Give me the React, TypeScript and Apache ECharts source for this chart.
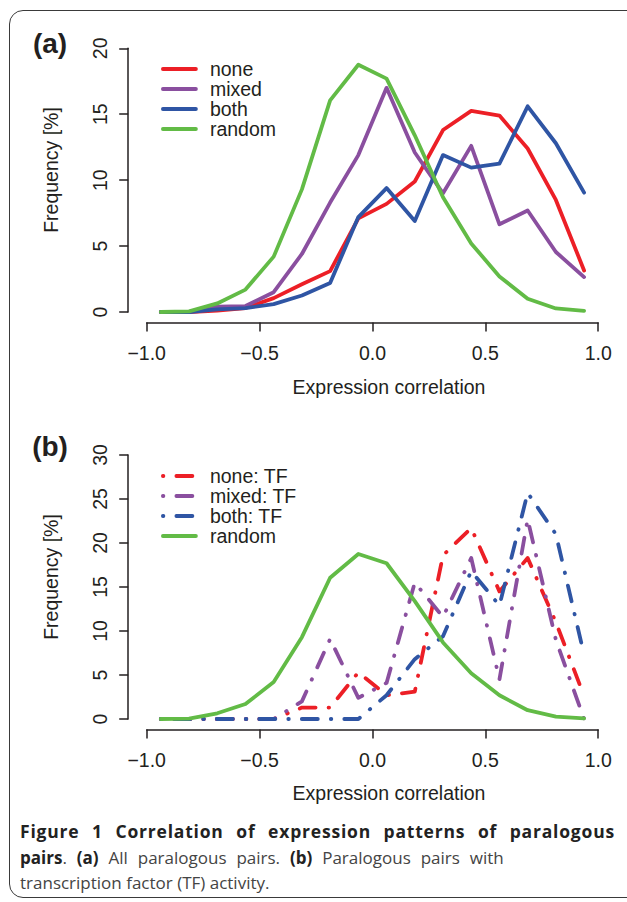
import React, { useEffect, useRef } from 'react';
import * as echarts from 'echarts';

// Bin centres of the expression-correlation histogram (bin width 0.125)
const bins = [-0.9375, -0.8125, -0.6875, -0.5625, -0.4375, -0.3125, -0.1875, -0.0625,
  0.0625, 0.1875, 0.3125, 0.4375, 0.5625, 0.6875, 0.8125, 0.9375];

// Panel (a): all paralogous pairs, frequency [%]
const noneA = [0, 0, 0.1, 0.3, 1.05, 2.1, 3.1, 7.1, 8.2, 9.9, 13.8, 15.25, 14.9, 12.4, 8.5, 3.15];
const mixedA = [0, 0, 0.4, 0.45, 1.5, 4.4, 8.3, 11.9, 17.0, 12.1, 9.0, 12.6, 6.65, 7.7, 4.55, 2.65];
const bothA = [0, 0, 0.2, 0.3, 0.6, 1.25, 2.2, 7.2, 9.4, 6.9, 11.9, 10.95, 11.25, 15.6, 12.8, 9.05];
const randomPairs = [0, 0.05, 0.65, 1.7, 4.2, 9.3, 16.05, 18.75, 17.7, 13.4, 8.7, 5.2, 2.7, 1.0, 0.27, 0.08];

// Panel (b): paralogous pairs with TF activity, frequency [%]
const noneTF = [0, 0, 0, 0, 0, 1.3, 1.3, 5.3, 2.7, 3.1, 18.6, 21.7, 14.5, 18.3, 11.0, 2.6];
const mixedTF = [0, 0, 0, 0, 0, 2.0, 9.1, 2.4, 4.1, 15.5, 11.6, 18.3, 4.5, 22.7, 9.0, 0];
const bothTF = [0, 0, 0, 0, 0, 0, 0, 0, 2.7, 6.8, 9.4, 16.8, 12.9, 25.7, 21.0, 7.3];

// Axis settings / tick labels
const xTicks = [-1, -0.5, 0, 0.5, 1];
const xTickLabels = ['\u22121.0', '\u22120.5', '0.0', '0.5', '1.0'];
const yTicksA = [0, 5, 10, 15, 20];
const yTicksB = [0, 5, 10, 15, 20, 25, 30];

const legendA = ['none', 'mixed', 'both', 'random'];
const legendB = ['none: TF', 'mixed: TF', 'both: TF', 'random'];

const RED = '#ec1f26';
const PURPLE = '#8a4f9f';
const BLUE = '#2f55a4';
const GREEN = '#62bb46';
const INK = '#231f20';
const FONT = '"Liberation Sans", Arial, Helvetica, sans-serif';
const DASH = [0.5, 13, 16, 13];

function pairs(vals: number[]) {
  return bins.map((b, i) => [b, vals[i]]);
}

function lineSeries(name: string, vals: number[], color: string, gi: number, dashed: boolean) {
  return {
    type: 'line',
    name,
    xAxisIndex: gi,
    yAxisIndex: gi,
    data: pairs(vals),
    symbol: 'none',
    color,
    silent: true,
    clip: false,
    lineStyle: { color, width: 3.8, type: dashed ? DASH : 'solid', cap: 'round', join: 'round' },
    emphasis: { disabled: true },
  };
}

function xAxis(gi: number) {
  return {
    type: 'value', gridIndex: gi, min: xTicks[0], max: xTicks[xTicks.length - 1], interval: 0.5,
    offset: 10.5,
    axisLine: { show: true, onZero: false, lineStyle: { color: INK, width: 1.5 } },
    axisTick: { show: true, length: 9, lineStyle: { color: INK, width: 1.5 } },
    axisLabel: {
      margin: 20.5, fontSize: 19.5, color: INK, fontFamily: FONT,
      formatter: (v: number) => {
        const i = xTicks.findIndex((t) => Math.abs(t - v) < 1e-9);
        return i >= 0 ? xTickLabels[i] : '';
      },
    },
    splitLine: { show: false },
  };
}

function yAxis(gi: number, ticks: number[]) {
  return {
    type: 'value', gridIndex: gi, min: ticks[0], max: ticks[ticks.length - 1], interval: 5,
    offset: 18.5,
    axisLine: { show: true, onZero: false, lineStyle: { color: INK, width: 1.5 } },
    axisTick: { show: true, length: 9, lineStyle: { color: INK, width: 1.5 } },
    axisLabel: { margin: 18.5, rotate: 90, fontSize: 19.5, color: INK, fontFamily: FONT, formatter: (v: number) => String(v) },
    splitLine: { show: false },
  };
}

function legend(names: string[], top: number) {
  return {
    data: names, left: 161, top, orient: 'vertical', padding: 0, itemGap: 0,
    itemWidth: 33, itemHeight: 12, selectedMode: false,
    itemStyle: { opacity: 0 },
    lineStyle: { width: 3.8 },
    textStyle: { fontSize: 19.5, lineHeight: 20, color: INK, fontFamily: FONT, padding: [0, 0, 0, 9] },
  };
}

function label(text: string, x: number, y: number, rotate = 0, size = 19.5, weight: any = 'normal') {
  return {
    type: 'text', x, y, rotation: rotate, silent: true,
    style: { text, fill: INK, fontSize: size, fontFamily: FONT, fontWeight: weight, align: 'center', verticalAlign: 'middle' },
  };
}

export default function App() {
  const ref = useRef<HTMLDivElement>(null);
  useEffect(() => {
    const chart = echarts.init(ref.current!, null, { renderer: 'svg' });
    chart.setOption({
      animation: false,
      grid: [
        { left: 146.7, width: 451.5, top: 48.3, height: 263.7, outerBoundsMode: 'none' },
        { left: 146.7, width: 451.5, top: 455, height: 264, outerBoundsMode: 'none' },
      ],
      xAxis: [xAxis(0), xAxis(1)],
      yAxis: [yAxis(0, yTicksA), yAxis(1, yTicksB)],
      legend: [legend(legendA, 59), legend(legendB, 466)],
      series: [
        lineSeries('none', noneA, RED, 0, false),
        lineSeries('mixed', mixedA, PURPLE, 0, false),
        lineSeries('both', bothA, BLUE, 0, false),
        lineSeries('random', randomPairs, GREEN, 0, false),
        lineSeries('none: TF', noneTF, RED, 1, true),
        lineSeries('mixed: TF', mixedTF, PURPLE, 1, true),
        lineSeries('both: TF', bothTF, BLUE, 1, true),
        lineSeries('random', randomPairs, GREEN, 1, false),
      ],
      graphic: [
        label('(a)', 50, 43.5, 0, 28, 'bold'),
        label('(b)', 50, 446, 0, 28, 'bold'),
        label('Frequency [%]', 51, 170, Math.PI / 2),
        label('Frequency [%]', 51, 577, Math.PI / 2),
        label('Expression correlation', 389, 387),
        label('Expression correlation', 389, 793),
      ],
    });
    return () => chart.dispose();
  }, []);

  return (
    <div style={{ position: 'absolute', left: 0, top: 0, width: 627, height: 902, background: '#fff', overflow: 'hidden' }}>
      <div style={{ position: 'absolute', left: 8.5, top: 10, width: 720, height: 888, border: '1.5px solid #3a3a3a', borderRadius: 14, boxSizing: 'border-box' }} />
      <div ref={ref} style={{ position: 'absolute', left: 0, top: 0, width: 627, height: 812 }} />
      <div style={{ position: 'absolute', left: 20, top: 819, width: 595, fontFamily: '"Open Sans", sans-serif', fontSize: 17, lineHeight: '25.5px', color: '#444' }}>
        <div style={{ textAlign: 'justify', textAlignLast: 'justify', fontWeight: 700, fontSize: 17.5, color: '#222', letterSpacing: 0.8, whiteSpace: 'nowrap' }}>Figure 1 Correlation of expression patterns of paralogous</div>
        <div style={{ wordSpacing: 5.5, whiteSpace: 'nowrap' }}><b style={{ color: '#222' }}>pairs</b>. <b style={{ color: '#222' }}>(a)</b> All paralogous pairs. <b style={{ color: '#222' }}>(b)</b> Paralogous pairs with</div>
        <div>transcription factor (TF) activity.</div>
      </div>
    </div>
  );
}
